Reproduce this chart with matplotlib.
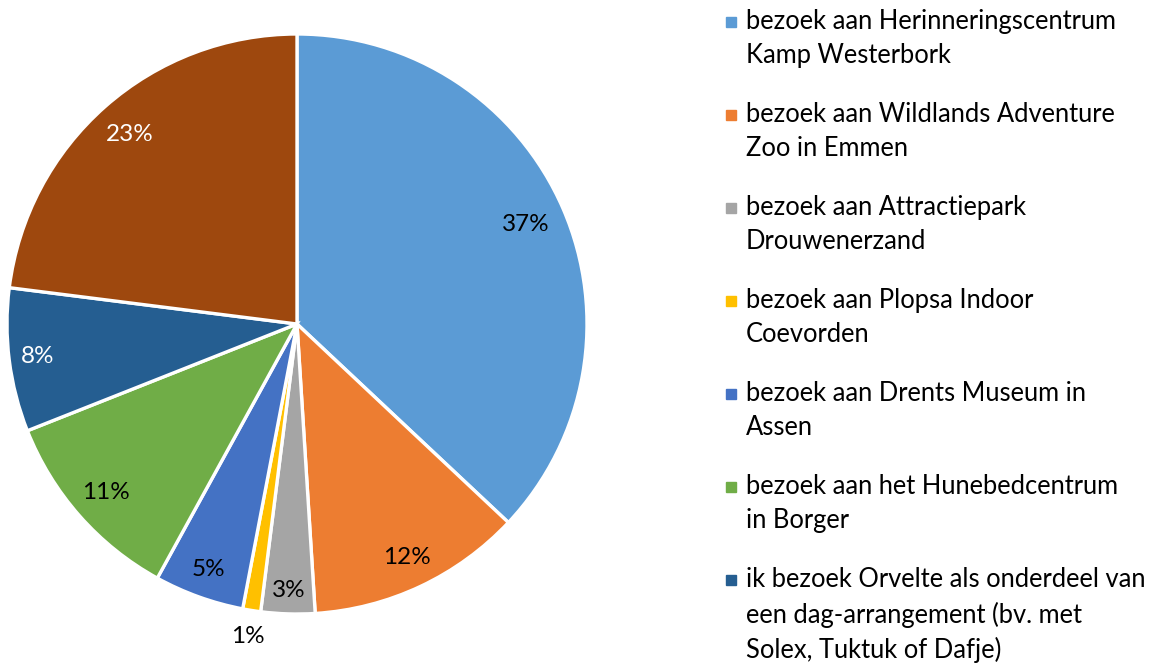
import matplotlib
matplotlib.use("Agg")
import matplotlib.pyplot as plt
from matplotlib.patches import Rectangle
import numpy as np

plt.rcParams['font.family'] = ['Lato', 'DejaVu Sans']

# === DATA ===
categories = [
    "bezoek aan Herinneringscentrum\nKamp Westerbork",
    "bezoek aan Wildlands Adventure\nZoo in Emmen",
    "bezoek aan Attractiepark\nDrouwenerzand",
    "bezoek aan Plopsa Indoor\nCoevorden",
    "bezoek aan Drents Museum in\nAssen",
    "bezoek aan het Hunebedcentrum\nin Borger",
    "ik bezoek Orvelte als onderdeel van\neen dag-arrangement (bv. met\nSolex, Tuktuk of Dafje)",
    "anders",
]
shares = [37, 12, 3, 1, 5, 11, 8, 23]
colors = ["#5B9BD5", "#ED7D31", "#A5A5A5", "#FFC000",
          "#4472C4", "#70AD47", "#255E91", "#9E480E"]
label_colors = ["black", "black", "black", "black",
                "black", "black", "white", "white"]
label_dist = [0.86, 0.89, 0.92, 1.09, 0.9, 0.88, 0.9, 0.87]

fig = plt.figure(figsize=(11.53, 6.63), dpi=100)
ax = fig.add_axes([7 / 1153, 49 / 663, 580 / 1153, 580 / 663])

wedges, _ = ax.pie(shares, colors=colors, startangle=90, counterclock=False,
                   radius=1, wedgeprops=dict(edgecolor="white", linewidth=2.4))
ax.set_xlim(-1, 1)
ax.set_ylim(-1, 1)
ax.set_aspect("equal")
ax.axis("off")

for w, v, c, d in zip(wedges, shares, label_colors, label_dist):
    ang = np.deg2rad((w.theta1 + w.theta2) / 2)
    ax.text(d * np.cos(ang), d * np.sin(ang), f"{v}%", color=c,
            ha="center", va="center", fontsize=17.5)

# === Legend (first 7 entries visible) ===
W, H = 1153, 663
y0 = 22
step = 93
for i in range(7):
    y = y0 + i * step
    fig.patches.append(Rectangle((726 / W, 1 - (y + 5) / H), 10 / W, 10 / H,
                                 transform=fig.transFigure, color=colors[i]))
    fig.text(746 / W, 1 - (y - 13) / H, categories[i], fontsize=18.4,
             ha="left", va="top", linespacing=1.45)

plt.savefig("out.png", dpi=100)
